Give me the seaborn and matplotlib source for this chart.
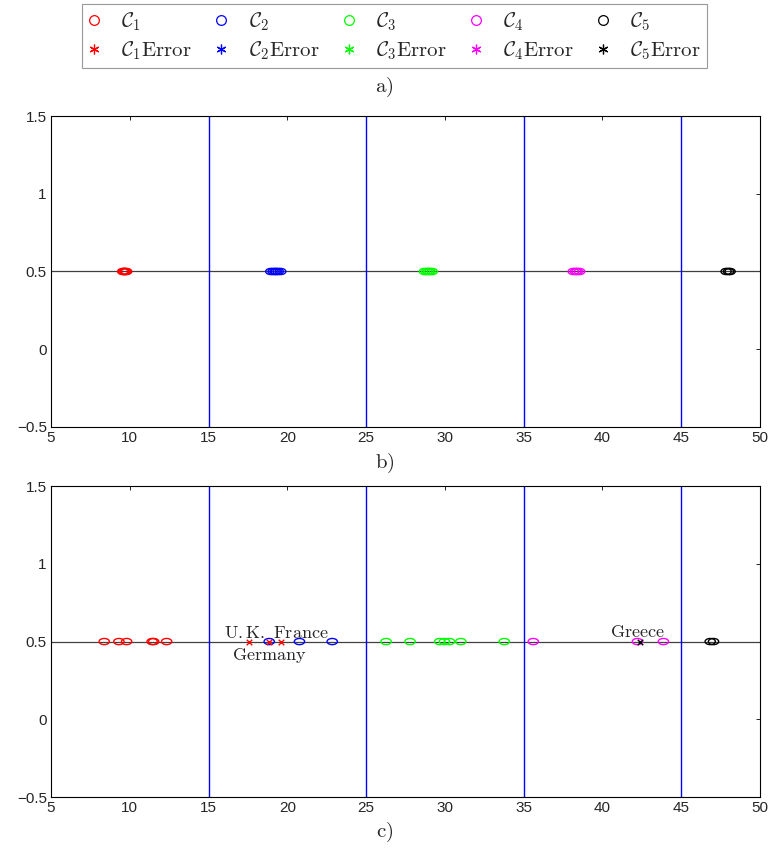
import numpy as np
import pandas as pd
import seaborn as sns
import matplotlib
matplotlib.use("Agg")
import matplotlib.pyplot as plt
from matplotlib.path import Path
from matplotlib.transforms import Affine2D
from matplotlib.lines import Line2D

# cluster colours (MATLAB style)
cluster_names = ["C1", "C2", "C3", "C4", "C5"]
cluster_colors = ["#ff0000", "#0000ff", "#00ff00", "#ff00ff", "#000000"]

# panel b) - cluster positions (tight groups)
b_c1 = [9.55, 9.62, 9.68, 9.72, 9.80]
b_c2 = [18.95, 19.10, 19.22, 19.30, 19.42, 19.58]
b_c3 = [28.70, 28.85, 28.95, 29.05, 29.20]
b_c4 = [38.15, 38.30, 38.40, 38.55]
b_c5 = [47.85, 48.00, 48.10]

# panel c) - country positions
c_c1 = [8.38, 9.31, 9.80, 11.42, 11.52, 12.34]
c_c2 = [18.85, 20.77, 22.85]
c_c3 = [26.27, 27.79, 29.67, 29.97, 30.29, 31.01, 33.77]
c_c4 = [35.61, 42.22, 43.87]
c_c5 = [46.84, 47.05]

# misclassified countries in c)
err_x = [17.57, 18.85, 19.61, 42.39]
err_color = ["#ff0000", "#ff0000", "#ff0000", "#000000"]

# country labels in c)
label_text = [r"$\mathrm{U.K.\ France}$", r"$\mathrm{Germany}$", r"$\mathrm{Greece}$"]
label_x = [19.29, 18.85, 42.24]
label_y = [0.552, 0.413, 0.56]

boundaries = [15, 25, 35, 45]
x_ticks = [5, 10, 15, 20, 25, 30, 35, 40, 45, 50]
y_ticks = [-0.5, 0, 0.5, 1, 1.5]

sns.set_theme(style="white")
plt.rcParams["font.family"] = ["Liberation Sans", "DejaVu Sans"]
plt.rcParams["mathtext.fontset"] = "cm"

# elliptical circle marker (figure was stretched horizontally)
ellipse = Path.unit_circle().transformed(Affine2D().scale(1.0, 0.6))


def make_df(groups):
    rows = []
    for name, xs in zip(cluster_names, groups):
        for v in xs:
            rows.append({"x": v, "y": 0.5, "cluster": name})
    return pd.DataFrame(rows)


df_b = make_df([b_c1, b_c2, b_c3, b_c4, b_c5])
df_c = make_df([c_c1, c_c2, c_c3, c_c4, c_c5])
df_err = pd.DataFrame({"x": err_x, "y": [0.5] * len(err_x), "color": err_color})

fig = plt.figure(figsize=(7.69, 8.48), dpi=100)
ax_b = fig.add_axes([0.0663, 0.4965, 0.922, 0.3667])
ax_c = fig.add_axes([0.0663, 0.0601, 0.922, 0.3667])


def style_axes(ax):
    ax.set_xlim(5, 50)
    ax.set_ylim(-0.5, 1.5)
    ax.set_xticks(x_ticks)
    ax.set_yticks(y_ticks)
    ax.set_yticklabels(["\u22120.5", "0", "0.5", "1", "1.5"])
    ax.tick_params(direction="in", length=3, width=0.6, top=True, right=True,
                   labelsize=11, pad=3, color="black")
    for s in ax.spines.values():
        s.set_color("black")
        s.set_linewidth(0.8)
    ax.set_xlabel("")
    ax.set_ylabel("")
    ax.axhline(0.5, color="0.25", lw=0.9, zorder=1)
    for b in boundaries:
        ax.axvline(b, color="#0000ff", lw=1.0, zorder=1)


for ax, df in [(ax_b, df_b), (ax_c, df_c)]:
    for name, col in zip(cluster_names, cluster_colors):
        sub = df[df["cluster"] == name]
        sns.scatterplot(data=sub, x="x", y="y", ax=ax, marker=ellipse, s=55,
                        fc="none", ec=col, linewidth=1.0, zorder=3, legend=False)
    style_axes(ax)

for col in df_err["color"].unique():
    sub = df_err[df_err["color"] == col]
    sns.scatterplot(data=sub, x="x", y="y", ax=ax_c, marker="x", s=16,
                    color=col, linewidth=1.0, zorder=4, legend=False)
ax_c.set_xlabel("")
ax_c.set_ylabel("")

for t, x, y in zip(label_text, label_x, label_y):
    ax_c.text(x, y, t, ha="center", va="center", fontsize=13, color="0.15")

# legend at top
handles = []
labels = []
for i, col in enumerate(cluster_colors):
    handles.append(Line2D([], [], ls="none", marker="o", mfc="none", mec=col, ms=7, mew=0.9))
    labels.append(r"$\mathcal{C}_%d$" % (i + 1))
    handles.append(Line2D([], [], ls="none", marker=(6, 2, 0), color=col, ms=7, mew=0.9))
    labels.append(r"$\mathcal{C}_%d\mathrm{Error}$" % (i + 1))

leg = fig.legend(handles, labels, ncol=5, loc="upper center", bbox_to_anchor=(0.513, 0.9953),
                 fontsize=15, frameon=True, fancybox=False, handlelength=0.6,
                 handletextpad=1.0, columnspacing=1.1, borderpad=0.3, labelspacing=0.3,
                 borderaxespad=0)
leg.get_frame().set_edgecolor("0.5")
leg.get_frame().set_linewidth(0.8)

fig.text(0.5, 0.897, r"$\mathrm{a)}$", ha="center", va="center", fontsize=15)
fig.text(0.5, 0.454, r"$\mathrm{b)}$", ha="center", va="center", fontsize=15)
fig.text(0.5, 0.018, r"$\mathrm{c)}$", ha="center", va="center", fontsize=15)

fig.savefig("out.png", dpi=100)
